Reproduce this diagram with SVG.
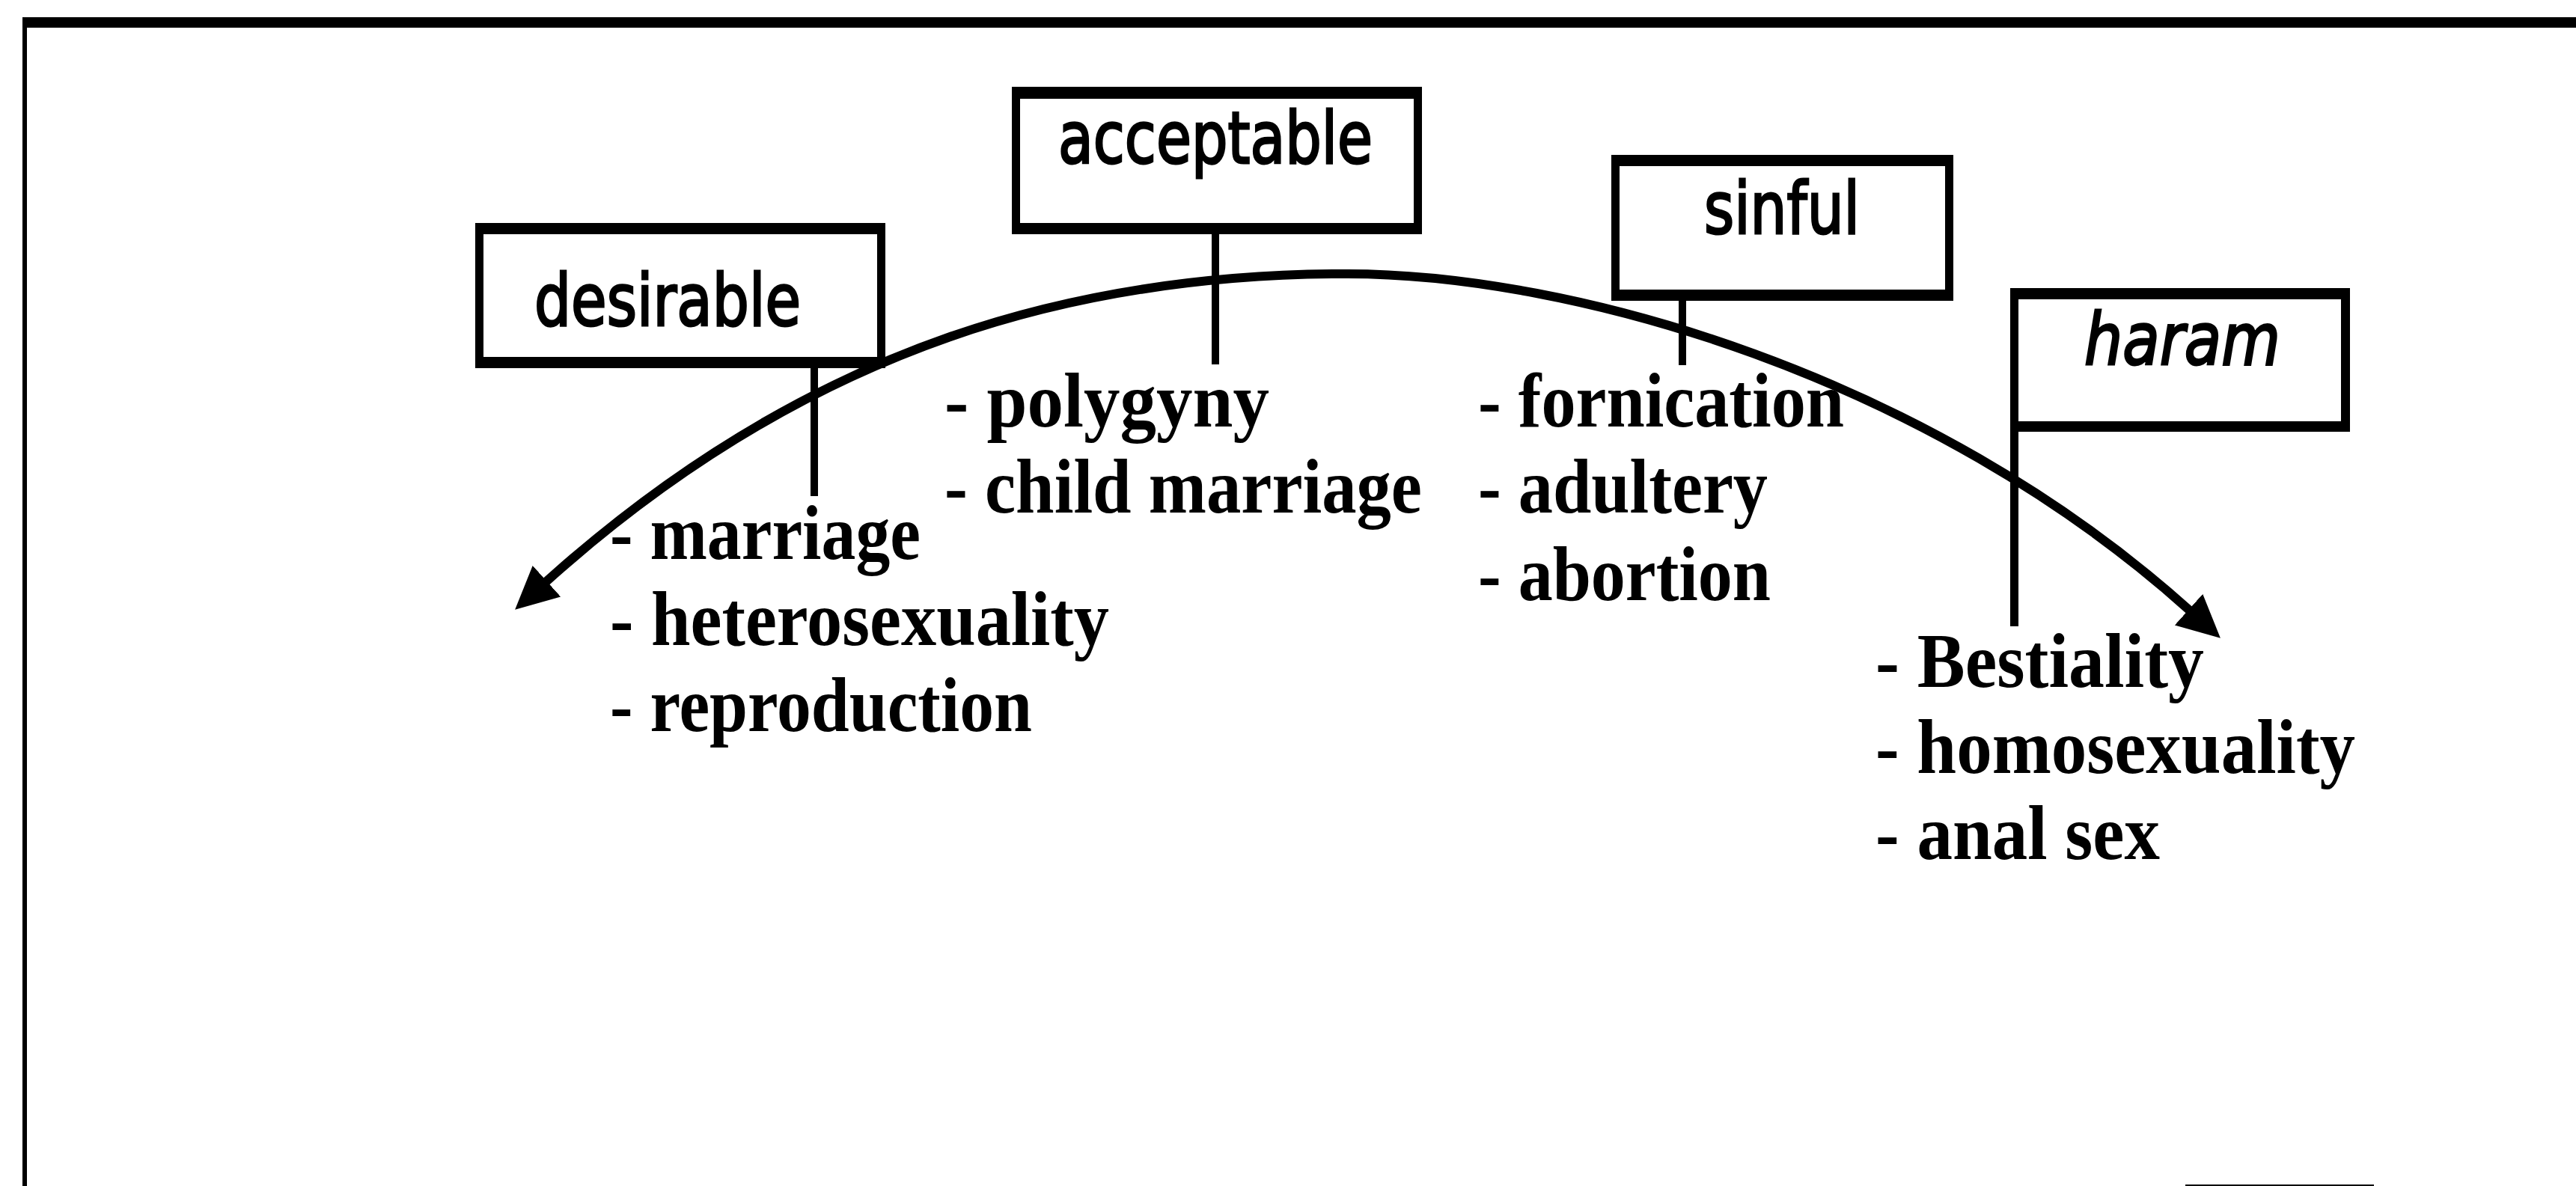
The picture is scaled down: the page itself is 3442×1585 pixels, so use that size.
<svg xmlns="http://www.w3.org/2000/svg" width="3442" height="1585" viewBox="0 0 3442 1585">
  <style>
    .frame { fill: #000; }
    .box { fill: #000; fill-rule: evenodd; }
    .pole { stroke: #000; stroke-width: 10; fill: none; }
    .lbl { font-family: "DejaVu Sans", "Liberation Sans", sans-serif; font-size: 96px; fill: #000; stroke: #000; stroke-width: 3; }
    .lbl-it { font-style: italic; }
    .itm { font-family: "Liberation Serif", "Times New Roman", serif; font-weight: bold; font-size: 104px; fill: #000; }
    .arc { stroke: #000; stroke-width: 12; fill: none; }
  </style>
  <defs>
    <marker id="head" markerUnits="userSpaceOnUse" viewBox="0 0 58 58" markerWidth="58" markerHeight="58" refX="2" refY="29" orient="auto-start-reverse">
      <path d="M0,1 L57,29 L0,57 Z" fill="#000"/>
    </marker>
  </defs>

  <rect width="3442" height="1585" fill="#fff"/>

  <!-- page frame: heavy top rule, thin left rule -->
  <g id="frame">
    <rect class="frame" x="30" y="23" width="3412" height="14"/>
    <rect class="frame" x="30" y="23" width="6" height="1562"/>
    <rect class="frame" x="2920" y="1583" width="252" height="2"/>
  </g>

  <!-- the arc of moral categories -->
  <g id="connectors">
    <path class="arc" d="M729,778 C1089,454 1450,366 1800,366 C2100,366 2576,501 2926,816" marker-start="url(#head)" marker-end="url(#head)"/>
  </g>

  <g id="node-desirable">
    <path class="box" d="M635,298H1183V492H635Z M646,313V477H1172V313Z"/>
    <text class="lbl" x="714" y="435" textLength="356" lengthAdjust="spacingAndGlyphs">desirable</text>
    <line class="pole" x1="1088" y1="492" x2="1088" y2="663"/>
    <text class="itm" x="815" y="747" textLength="415" lengthAdjust="spacingAndGlyphs">- marriage</text>
    <text class="itm" x="815" y="862" textLength="667" lengthAdjust="spacingAndGlyphs">- heterosexuality</text>
    <text class="itm" x="815" y="977" textLength="564" lengthAdjust="spacingAndGlyphs">- reproduction</text>
  </g>

  <g id="node-acceptable">
    <path class="box" d="M1352,116H1900V313H1352Z M1363,132V298H1889V132Z"/>
    <text class="lbl" x="1414" y="218" textLength="420" lengthAdjust="spacingAndGlyphs">acceptable</text>
    <line class="pole" x1="1624" y1="313" x2="1624" y2="487"/>
    <text class="itm" x="1262" y="570" textLength="434" lengthAdjust="spacingAndGlyphs">- polygyny</text>
    <text class="itm" x="1262" y="685" textLength="638" lengthAdjust="spacingAndGlyphs">- child marriage</text>
  </g>

  <g id="node-sinful">
    <path class="box" d="M2153,207H2610V402H2153Z M2164,222V387H2599V222Z"/>
    <text class="lbl" x="2277" y="312" textLength="208" lengthAdjust="spacingAndGlyphs">sinful</text>
    <line class="pole" x1="2248" y1="402" x2="2248" y2="488"/>
    <text class="itm" x="1975" y="570" textLength="489" lengthAdjust="spacingAndGlyphs">- fornication</text>
    <text class="itm" x="1975" y="685" textLength="387" lengthAdjust="spacingAndGlyphs">- adultery</text>
    <text class="itm" x="1975" y="802" textLength="391" lengthAdjust="spacingAndGlyphs">- abortion</text>
  </g>

  <g id="node-haram">
    <path class="box" d="M2686,385H3140V577H2686Z M2697,400V563H3128V400Z"/>
    <text class="lbl lbl-it" x="2785" y="487" textLength="262" lengthAdjust="spacingAndGlyphs">haram</text>
    <line class="pole" x1="2691.5" y1="577" x2="2691.5" y2="837" style="stroke-width:11"/>
    <text class="itm" x="2506" y="918" textLength="439" lengthAdjust="spacingAndGlyphs">- Bestiality</text>
    <text class="itm" x="2506" y="1033" textLength="641" lengthAdjust="spacingAndGlyphs">- homosexuality</text>
    <text class="itm" x="2506" y="1148" textLength="380" lengthAdjust="spacingAndGlyphs">- anal sex</text>
  </g>
</svg>
